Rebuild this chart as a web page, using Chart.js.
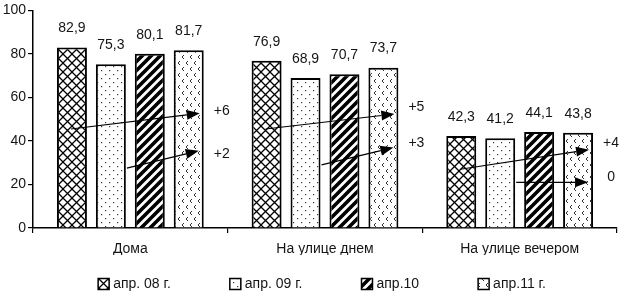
<!DOCTYPE html>
<html><head><meta charset="utf-8">
<script src="https://cdn.jsdelivr.net/npm/chart.js@4"></script>
<style>html,body{margin:0;padding:0;background:#fff}#wrap{width:620px;height:295px;position:relative}</style>
</head><body><div id="wrap"><canvas id="c"></canvas></div>
<script>
const categories = ['Дома', 'На улице днем', 'На улице вечером'];
const seriesNames = ['апр. 08 г.', 'апр. 09 г.', 'апр.10', 'апр.11 г.'];
const apr08 = [82.9, 76.9, 42.3];
const apr09 = [75.3, 68.9, 41.2];
const apr10 = [80.1, 70.7, 44.1];
const apr11 = [81.7, 73.7, 43.8];
const yTicks = [0, 20, 40, 60, 80, 100];
// trend arrows (values on the y scale), per category
const arrow1From = [45.5, 45.5, 27];
const arrow1To = [52.7, 52.4, 36];
const arrow1Label = ['+6', '+5', '+4'];
const arrow1LabelAt = [53.6, 55.7, 39];
const arrow2From = [27.5, 29, 21];
const arrow2To = [35.5, 37, 21];
const arrow2Label = ['+2', '+3', '0'];
const arrow2LabelAt = [34, 39, 23.5];

const FONT = '"Liberation Sans", Arial, sans-serif';
const INK = '#151515';

function tile(w, h, draw) {
  const c = document.createElement('canvas');
  c.width = w; c.height = h;
  const x = c.getContext('2d');
  x.fillStyle = '#fff'; x.fillRect(0, 0, w, h);
  x.strokeStyle = '#000'; x.fillStyle = '#000';
  draw(x, w, h);
  return document.createElement('canvas').getContext('2d').createPattern(c, 'repeat');
}
const patCross = tile(9, 9, (x) => {
  x.lineWidth = 1.3;
  x.beginPath();
  x.moveTo(-1, -1); x.lineTo(10, 10);
  x.moveTo(-1, 10); x.lineTo(10, -1);
  x.stroke();
});
const patDots = tile(8, 8, (x) => {
  x.fillStyle = '#333';
  x.fillRect(1, 2, 1.2, 1.2);
  x.fillRect(5, 6, 1.2, 1.2);
});
const patStripe = tile(9, 9, (x) => {
  x.lineWidth = 3.6;
  x.beginPath();
  x.moveTo(-1, 10); x.lineTo(10, -1);
  x.moveTo(-5.5, 5.5); x.lineTo(5.5, -5.5);
  x.moveTo(3.5, 14.5); x.lineTo(14.5, 3.5);
  x.stroke();
});
const patChev = tile(8, 12, (x) => {
  x.lineWidth = 1;
  x.strokeStyle = '#333';
  x.beginPath();
  x.moveTo(4, 1); x.lineTo(2, 3); x.lineTo(4, 5);
  x.moveTo(8, 7); x.lineTo(6, 9); x.lineTo(8, 11);
  x.stroke();
});
const patterns = [patCross, patDots, patStripe, patChev];
const seriesValues = [apr08, apr09, apr10, apr11];

const fmt = v => v.toFixed(1).replace('.', ',');

const valueLabels = {
  id: 'valueLabels',
  afterDatasetsDraw(chart) {
    const ctx = chart.ctx;
    ctx.save();
    ctx.font = '14px ' + FONT;
    ctx.fillStyle = INK;
    ctx.textAlign = 'center';
    ctx.textBaseline = 'middle';
    chart.data.datasets.forEach((ds, i) => {
      chart.getDatasetMeta(i).data.forEach((bar, j) => {
        ctx.fillText(fmt(ds.data[j]), bar.x, bar.y - 19);
      });
    });
    ctx.restore();
  }
};

function arrow(ctx, x0, y0, x1, y1) {
  const ang = Math.atan2(y1 - y0, x1 - x0);
  const L = 13, H = 5;
  const bx = x1 - L * Math.cos(ang), by = y1 - L * Math.sin(ang);
  ctx.beginPath();
  ctx.moveTo(x0, y0); ctx.lineTo(bx, by);
  ctx.stroke();
  ctx.beginPath();
  ctx.moveTo(x1, y1);
  ctx.lineTo(bx + H * Math.sin(ang), by - H * Math.cos(ang));
  ctx.lineTo(bx - H * Math.sin(ang), by + H * Math.cos(ang));
  ctx.closePath();
  ctx.fill();
}

const trendArrows = {
  id: 'trendArrows',
  afterDatasetsDraw(chart) {
    const ctx = chart.ctx, y = chart.scales.y;
    const m0 = chart.getDatasetMeta(0).data, m1 = chart.getDatasetMeta(1).data, m3 = chart.getDatasetMeta(3).data;
    ctx.save();
    ctx.strokeStyle = '#000'; ctx.fillStyle = '#000'; ctx.lineWidth = 1.2;
    categories.forEach((c, j) => {
      arrow(ctx, m0[j].x - 1, y.getPixelForValue(arrow1From[j]), m3[j].x + 11, y.getPixelForValue(arrow1To[j]));
      arrow(ctx, m1[j].x + 16, y.getPixelForValue(arrow2From[j]), m3[j].x + 10, y.getPixelForValue(arrow2To[j]));
    });
    ctx.font = '14px ' + FONT;
    ctx.fillStyle = INK;
    ctx.textAlign = 'center';
    ctx.textBaseline = 'middle';
    categories.forEach((c, j) => {
      ctx.fillText(arrow1Label[j], m3[j].x + 33, y.getPixelForValue(arrow1LabelAt[j]));
      ctx.fillText(arrow2Label[j], m3[j].x + 33, y.getPixelForValue(arrow2LabelAt[j]));
    });
    ctx.restore();
  }
};

const bottomLegend = {
  id: 'bottomLegend',
  afterDraw(chart) {
    const ctx = chart.ctx;
    ctx.save();
    ctx.font = '14px ' + FONT;
    const box = 11, gap = 4, pad = 59;
    const ds = chart.data.datasets;
    const widths = ds.map(d => box + gap + ctx.measureText(d.label).width);
    const total = widths.reduce((a, b) => a + b, 0) + pad * (widths.length - 1);
    let x = (chart.width - total) / 2 + 12;
    const yc = 284;
    ds.forEach((d, i) => {
      ctx.fillStyle = d.backgroundColor;
      ctx.fillRect(x, yc - box / 2, box, box);
      ctx.strokeStyle = '#000'; ctx.lineWidth = 1.5;
      ctx.strokeRect(x, yc - box / 2, box, box);
      ctx.fillStyle = INK;
      ctx.textAlign = 'left'; ctx.textBaseline = 'middle';
      ctx.fillText(d.label, x + box + gap, yc);
      x += widths[i] + pad;
    });
    ctx.restore();
  }
};

new Chart(document.getElementById('c'), {
  type: 'bar',
  data: {
    labels: categories,
    datasets: seriesNames.map((n, i) => ({
      label: n,
      data: seriesValues[i],
      backgroundColor: patterns[i],
      borderColor: '#000',
      borderWidth: 2,
      categoryPercentage: 0.80,
      barPercentage: 0.77
    }))
  },
  options: {
    responsive: true,
    maintainAspectRatio: false,
    animation: false,
    layout: { padding: { top: 6, right: 3, left: 0, bottom: 40 } },
    plugins: { legend: { display: false }, tooltip: { enabled: false } },
    scales: {
      x: {
        grid: { display: true, drawOnChartArea: false, drawTicks: true, tickLength: 5, offset: true, color: '#000', lineWidth: 1.2 },
        border: { color: '#000', width: 1.5 },
        ticks: { font: { family: FONT, size: 14 }, color: INK, padding: 8, maxRotation: 0 },
        afterFit(s) { s.height = 27; }
      },
      y: {
        min: 0, max: 100,
        grid: { display: true, drawOnChartArea: false, drawTicks: true, tickLength: 5, color: '#000', lineWidth: 1.2 },
        border: { color: '#000', width: 1.5 },
        ticks: { font: { family: FONT, size: 14 }, color: INK, padding: 2 },
        afterBuildTicks(s) { s.ticks = yTicks.map(v => ({ value: v })); },
        afterFit(s) { s.width = 33; }
      }
    }
  },
  plugins: [valueLabels, trendArrows, bottomLegend]
});
</script></body></html>
